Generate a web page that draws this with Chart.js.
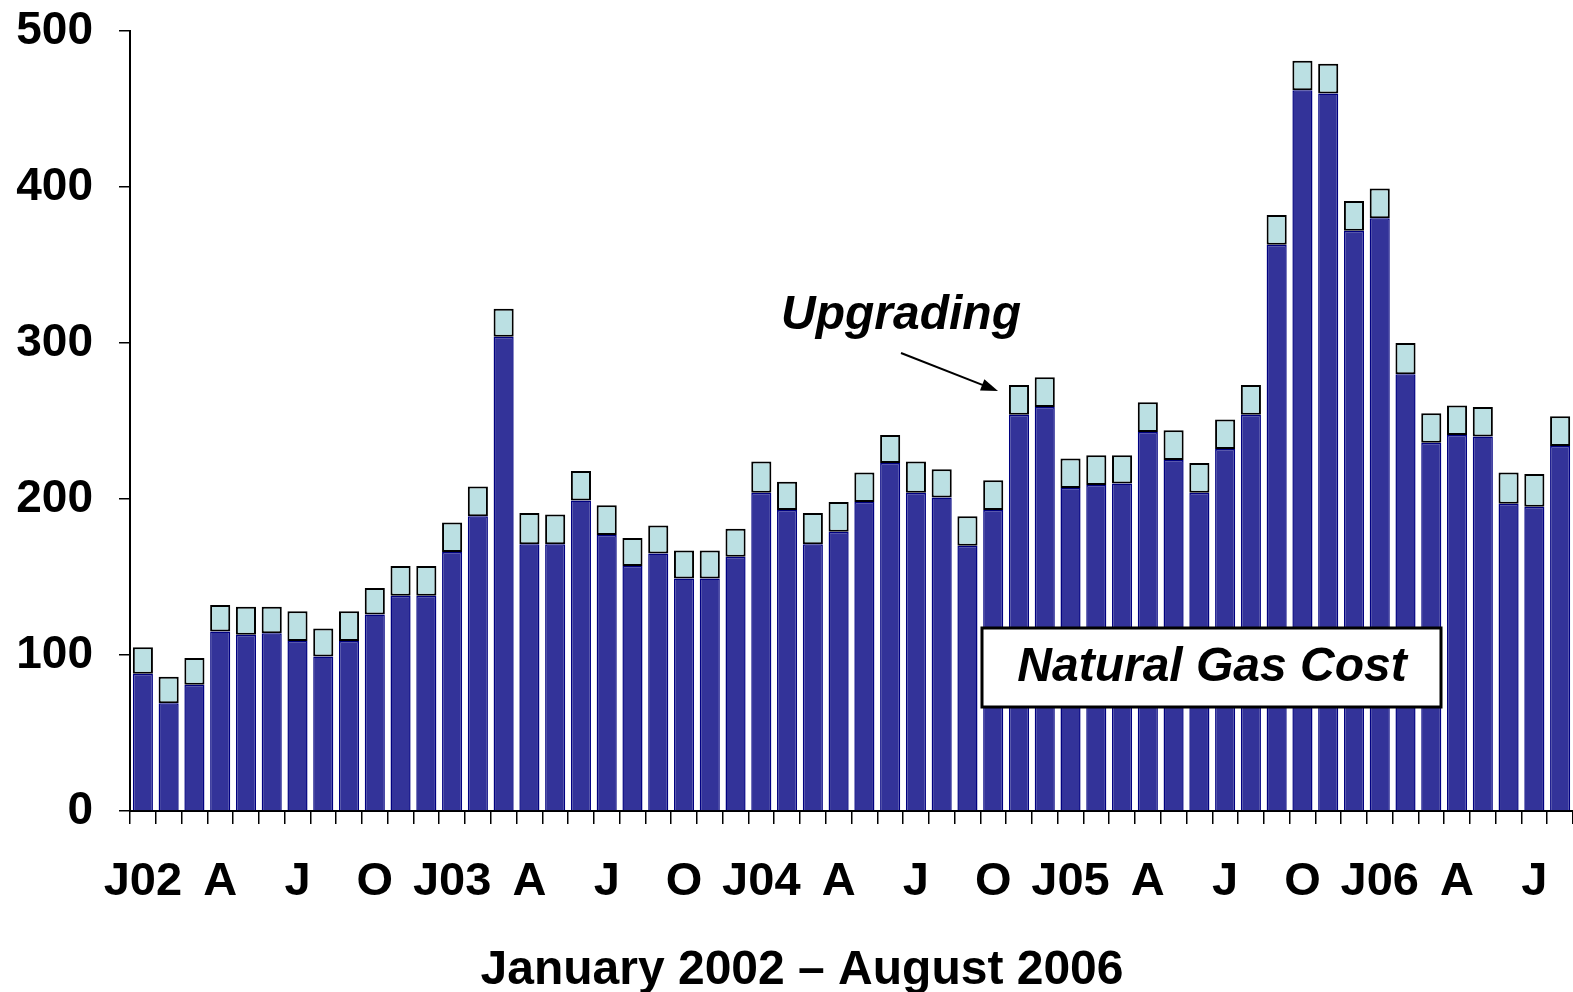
<!DOCTYPE html>
<html>
<head>
    <title>Natural Gas Cost and Upgrading, 2002-2006</title>
    <script src="https://cdn.jsdelivr.net/npm/chart.js"></script>
    <style>
        body { margin: 0; background: #fff; }
    </style>
</head>
<body>
    <canvas id="myChart" width="1573" height="992"></canvas>

    <script>
        // monthly categories, Jan 2002 - Aug 2006 (only every 3rd one is shown)
        var months = [
            'J02', 'F', 'M', 'A', 'M', 'J', 'J', 'A', 'S', 'O', 'N', 'D',
            'J03', 'F', 'M', 'A', 'M', 'J', 'J', 'A', 'S', 'O', 'N', 'D',
            'J04', 'F', 'M', 'A', 'M', 'J', 'J', 'A', 'S', 'O', 'N', 'D',
            'J05', 'F', 'M', 'A', 'M', 'J', 'J', 'A', 'S', 'O', 'N', 'D',
            'J06', 'F', 'M', 'A', 'M', 'J', 'J', 'A'
        ];

        var gasCost = [
            88, 69, 81, 115, 113, 114, 109, 99, 109, 126, 138, 138,
            166, 189, 304, 171, 171, 199, 177, 157, 165, 149, 149, 163,
            204, 193, 171, 179, 198, 223, 204, 201, 170, 193, 254, 259,
            207, 209, 210, 243, 225, 204, 232, 254, 363, 462, 460, 372,
            380, 280, 236, 241, 240, 197, 195, 234
        ];

        var upgrading = [
            17, 17, 17, 17, 18, 17, 19, 18, 19, 17, 19, 19,
            19, 19, 18, 20, 19, 19, 19, 18, 18, 18, 18, 18,
            20, 18, 20, 19, 19, 18, 20, 18, 19, 19, 19, 19,
            19, 19, 18, 19, 19, 19, 19, 19, 19, 19, 19, 19,
            19, 20, 19, 19, 19, 20, 21, 19
        ];

        var yTicks = [0, 100, 200, 300, 400, 500];

        var fontFamily = '"Liberation Sans", Arial, Helvetica, sans-serif';

        // axis title, "Upgrading" arrow and the "Natural Gas Cost" box
        var annotations = {
            id: 'annotations',
            afterDraw: function (chart) {
                var c = chart.ctx;
                c.save();
                c.fillStyle = '#000';
                c.strokeStyle = '#000';

                c.font = 'bold 48px ' + fontFamily;
                c.textAlign = 'center';
                c.textBaseline = 'alphabetic';
                c.fillText('January 2002 \u2013 August 2006', 802, 984);

                c.font = 'italic bold 48px ' + fontFamily;
                c.textAlign = 'left';
                c.fillText('Upgrading', 781, 329);

                // arrow
                var x1 = 901, y1 = 353, x2 = 998, y2 = 391;
                var ang = Math.atan2(y2 - y1, x2 - x1);
                c.lineWidth = 2;
                c.beginPath();
                c.moveTo(x1, y1);
                c.lineTo(x2 - 12 * Math.cos(ang), y2 - 12 * Math.sin(ang));
                c.stroke();
                c.beginPath();
                c.moveTo(x2, y2);
                c.lineTo(x2 - 17 * Math.cos(ang) + 6 * Math.sin(ang), y2 - 17 * Math.sin(ang) - 6 * Math.cos(ang));
                c.lineTo(x2 - 17 * Math.cos(ang) - 6 * Math.sin(ang), y2 - 17 * Math.sin(ang) + 6 * Math.cos(ang));
                c.closePath();
                c.fill();

                // label box
                c.fillStyle = '#fff';
                c.fillRect(982, 628, 459, 79);
                c.lineWidth = 3;
                c.strokeRect(982, 628, 459, 79);
                c.fillStyle = '#000';
                c.textAlign = 'center';
                c.textBaseline = 'middle';
                c.fillText('Natural Gas Cost', 1212, 668);
                c.restore();
            }
        };

        var ctx = document.getElementById('myChart').getContext('2d');
        var myChart = new Chart(ctx, {
            type: 'bar',
            data: {
                labels: months,
                datasets: [{
                    label: 'Natural Gas Cost',
                    data: gasCost,
                    backgroundColor: '#333399',
                    borderColor: '#000080',
                    borderWidth: 1.5,
                    barPercentage: 0.78,
                    categoryPercentage: 1.0
                }, {
                    label: 'Upgrading',
                    data: upgrading,
                    backgroundColor: '#BBE0E3',
                    borderColor: '#000000',
                    borderWidth: 2,
                    borderSkipped: false,
                    barPercentage: 0.78,
                    categoryPercentage: 1.0
                }]
            },
            options: {
                responsive: false,
                animation: false,
                layout: { padding: { top: 31, right: 0, bottom: 0, left: 0 } },
                plugins: {
                    legend: { display: false },
                    tooltip: { enabled: false }
                },
                scales: {
                    x: {
                        stacked: true,
                        afterFit: function (s) {
                            s.height = 181;
                            s.paddingLeft = 0;
                            s.paddingRight = 0;
                        },
                        border: { display: true, color: '#000', width: 2 },
                        grid: {
                            offset: true,
                            drawOnChartArea: false,
                            drawTicks: true,
                            tickLength: 13,
                            color: '#000',
                            lineWidth: 1.5
                        },
                        ticks: {
                            autoSkip: false,
                            maxRotation: 0,
                            padding: 30,
                            color: '#000',
                            font: { family: fontFamily, size: 47, weight: 'bold' },
                            callback: function (val, i) {
                                return i % 3 === 0 ? months[i] : '';
                            }
                        }
                    },
                    y: {
                        stacked: true,
                        min: 0,
                        max: 500,
                        afterFit: function (s) {
                            s.width = 130;
                            s.paddingTop = 0;
                            s.paddingBottom = 0;
                        },
                        afterBuildTicks: function (s) {
                            s.ticks = yTicks.map(function (v) { return { value: v }; });
                        },
                        border: { display: true, color: '#000', width: 2 },
                        grid: {
                            drawOnChartArea: false,
                            drawTicks: true,
                            tickLength: 11,
                            color: '#000',
                            lineWidth: 1.5
                        },
                        ticks: {
                            padding: 26,
                            color: '#000',
                            font: { family: fontFamily, size: 46, weight: 'bold' }
                        }
                    }
                }
            },
            plugins: [annotations]
        });
    </script>
</body>
</html>
